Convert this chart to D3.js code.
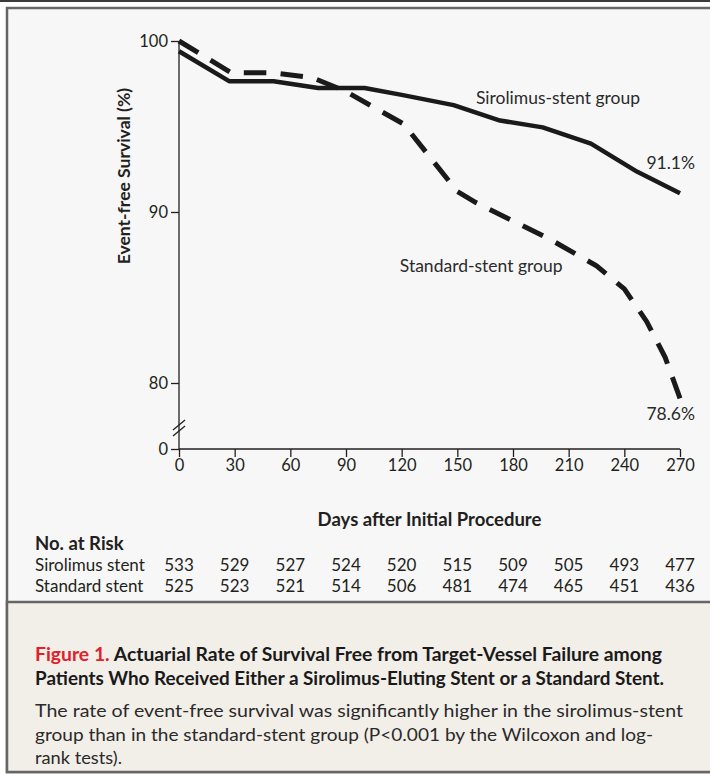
<!DOCTYPE html>
<html>
<head>
<meta charset="utf-8">
<script src="https://cdn.jsdelivr.net/npm/d3@7"></script>
<style>
  body { margin: 0; background: #fff; }
  svg { display: block; font-family: Lato, "Open Sans", sans-serif; }
</style>
</head>
<body>
<script>
// days on the x axis and the two survival curves
const days = [0, 30, 60, 90, 120, 150, 180, 210, 240, 270];
const sirolimusCurve = [
  [0, 99.4], [27, 97.65], [51, 97.65], [75, 97.25], [100, 97.25], [120, 96.85],
  [148, 96.25], [173, 95.35], [196, 94.95], [222, 94.0], [247, 92.35], [270, 91.1]
];
const standardCurve = [
  [0, 100], [28, 98.15], [50, 98.15], [72, 97.85], [89, 97.1], [121, 95.15],
  [150, 91.2], [160, 90.55], [200, 88.4], [225, 86.85], [240, 85.5],
  [252, 83.6], [262, 81.5], [270, 79.1]
];
const endLabels = ["91.1%", "78.6%"];
const yTicks = [80, 90, 100];
const sirolimusRisk = [533, 529, 527, 524, 520, 515, 509, 505, 493, 477];
const standardRisk = [525, 523, 521, 514, 506, 481, 474, 465, 451, 436];

const W = 710, H = 775;
const ink = "#231f20";

const svg = d3.select("body").append("svg")
  .attr("width", W)
  .attr("height", H);

// frame
svg.append("rect").attr("x", 0).attr("y", 0).attr("width", W).attr("height", 2).attr("fill", "#3a3a3a");
svg.append("rect").attr("x", 7).attr("y", 8).attr("width", W + 10).attr("height", 764)
  .attr("fill", "#f7f7f7").attr("stroke", "#666").attr("stroke-width", 2.5);
svg.append("rect").attr("x", 7).attr("y", 602).attr("width", W + 10).attr("height", 170)
  .attr("fill", "#f2eee8").attr("stroke", "#666").attr("stroke-width", 2.5);

const x = d3.scaleLinear().domain([0, 270]).range([179, 680]);
const y = d3.scaleLinear().domain([80, 100]).range([383, 41]);
const yLow = d3.scaleLinear().domain([0, 80]).range([449, 383]);

const g = svg.append("g");

// y axis line (broken scale)
g.append("line")
  .attr("x1", x(0)).attr("x2", x(0))
  .attr("y1", y(100)).attr("y2", yLow(0))
  .attr("stroke", ink).attr("stroke-width", 1.3);

function styleAxis(sel) {
  sel.select(".domain").remove();
  sel.selectAll(".tick line").attr("stroke", ink).attr("stroke-width", 1.3);
  sel.selectAll(".tick text")
    .attr("fill", ink)
    .style("font-size", "16.5px")
    .style("font-family", "Lato, sans-serif");
}

g.append("g")
  .attr("transform", `translate(${x(0)},0)`)
  .call(d3.axisLeft(y).tickValues(yTicks).tickSize(8).tickPadding(3))
  .call(styleAxis);

g.append("g")
  .attr("transform", `translate(${x(0)},0)`)
  .call(d3.axisLeft(yLow).tickValues([0]).tickSize(8).tickPadding(3))
  .call(styleAxis);

g.append("g")
  .attr("transform", `translate(0,${yLow(0)})`)
  .call(d3.axisBottom(x).tickValues(days).tickSize(8).tickPadding(2))
  .call(sel => {
    sel.select(".domain").attr("stroke", ink).attr("stroke-width", 1.3)
      .attr("d", `M${x(0)},0H${x(270)}`);
    sel.selectAll(".tick line").attr("stroke", ink).attr("stroke-width", 1.3);
    sel.selectAll(".tick text").attr("fill", ink)
      .style("font-size", "16.5px").style("font-family", "Lato, sans-serif");
  });

// break marks on the y axis
const brk = (yLow(0) + y(80)) / 2 + 12;
[-3, 3].forEach(o => {
  g.append("line")
    .attr("x1", x(0) - 6).attr("y1", brk + o + 5)
    .attr("x2", x(0) + 6).attr("y2", brk + o - 5)
    .attr("stroke", ink).attr("stroke-width", 1.3);
});

// curves
const line = d3.line().x(d => x(d[0])).y(d => y(d[1]));

g.append("path")
  .datum(sirolimusCurve)
  .attr("d", line)
  .attr("fill", "none")
  .attr("stroke", "#1a1a1a")
  .attr("stroke-width", 4.5)
  .attr("stroke-linejoin", "round");

const dashed = g.append("path")
  .datum(standardCurve)
  .attr("d", line)
  .attr("fill", "none")
  .attr("stroke", "#1a1a1a")
  .attr("stroke-width", 5);

// stretch the dash pattern a little so the curve starts and ends on a full dash
const len = dashed.node().getTotalLength();
const n = Math.round((len - 22) / 36);
const k = len / (n * 36 + 22);
dashed.attr("stroke-dasharray", `${22 * k},${14 * k}`);

// curve labels
const lab = (t, px, py, anchor) => g.append("text")
  .attr("x", px).attr("y", py)
  .attr("text-anchor", anchor || "start")
  .attr("fill", "#2a2a2a")
  .style("font-size", "17.5px")
  .text(t);

lab("Sirolimus-stent group", x(160), y(96.3));
lab(endLabels[0], x(270) + 15, y(92.5), "end");
lab("Standard-stent group", x(119), y(86.5));
lab(endLabels[1], x(270) + 15, y(77.85), "end");

// axis titles
g.append("text")
  .attr("transform", `translate(130,${y(92.1)}) rotate(-90)`)
  .attr("text-anchor", "middle")
  .attr("fill", ink)
  .style("font-size", "17.5px")
  .style("font-weight", "bold")
  .text("Event-free Survival (%)");

g.append("text")
  .attr("x", (x(0) + x(270)) / 2)
  .attr("y", 526)
  .attr("text-anchor", "middle")
  .attr("fill", ink)
  .style("font-size", "18.5px")
  .style("font-weight", "bold")
  .text("Days after Initial Procedure");

// number at risk table
g.append("text")
  .attr("x", 35).attr("y", 550)
  .attr("fill", ink)
  .style("font-size", "18.5px")
  .style("font-weight", "bold")
  .text("No. at Risk");

const rows = [
  { name: "Sirolimus stent", values: sirolimusRisk, yy: 571 },
  { name: "Standard stent", values: standardRisk, yy: 592 }
];

rows.forEach(r => {
  g.append("text")
    .attr("x", 35).attr("y", r.yy)
    .attr("fill", ink)
    .style("font-size", "17px")
    .text(r.name);
  g.selectAll(null)
    .data(r.values)
    .join("text")
    .attr("x", (d, i) => x(days[i]))
    .attr("y", r.yy)
    .attr("text-anchor", "middle")
    .attr("fill", ink)
    .style("font-size", "17px")
    .text(d => d);
});

// caption
const cap = svg.append("g");
const t1 = cap.append("text")
  .attr("x", 35).attr("y", 661)
  .attr("textLength", 627).attr("lengthAdjust", "spacingAndGlyphs")
  .style("font-size", "19px").style("font-weight", "bold").attr("fill", "#1a1a1a");
t1.append("tspan").attr("fill", "#e0202b").text("Figure 1. ");
t1.append("tspan").text("Actuarial Rate of Survival Free from Target-Vessel Failure among");

cap.append("text")
  .attr("x", 35).attr("y", 685)
  .attr("textLength", 629).attr("lengthAdjust", "spacingAndGlyphs")
  .style("font-size", "19px").style("font-weight", "bold").attr("fill", "#1a1a1a")
  .text("Patients Who Received Either a Sirolimus-Eluting Stent or a Standard Stent.");

const body = [
  ["The rate of event-free survival was significantly higher in the sirolimus-stent", 648],
  ["group than in the standard-stent group (P<0.001 by the Wilcoxon and log-", 618],
  ["rank tests).", 87]
];
body.forEach((b, i) => {
  cap.append("text")
    .attr("x", 35).attr("y", 717 + i * 23.5)
    .attr("textLength", b[1]).attr("lengthAdjust", "spacingAndGlyphs")
    .style("font-size", "18px").attr("fill", "#2a2a2a")
    .text(b[0]);
});
</script>
</body>
</html>
